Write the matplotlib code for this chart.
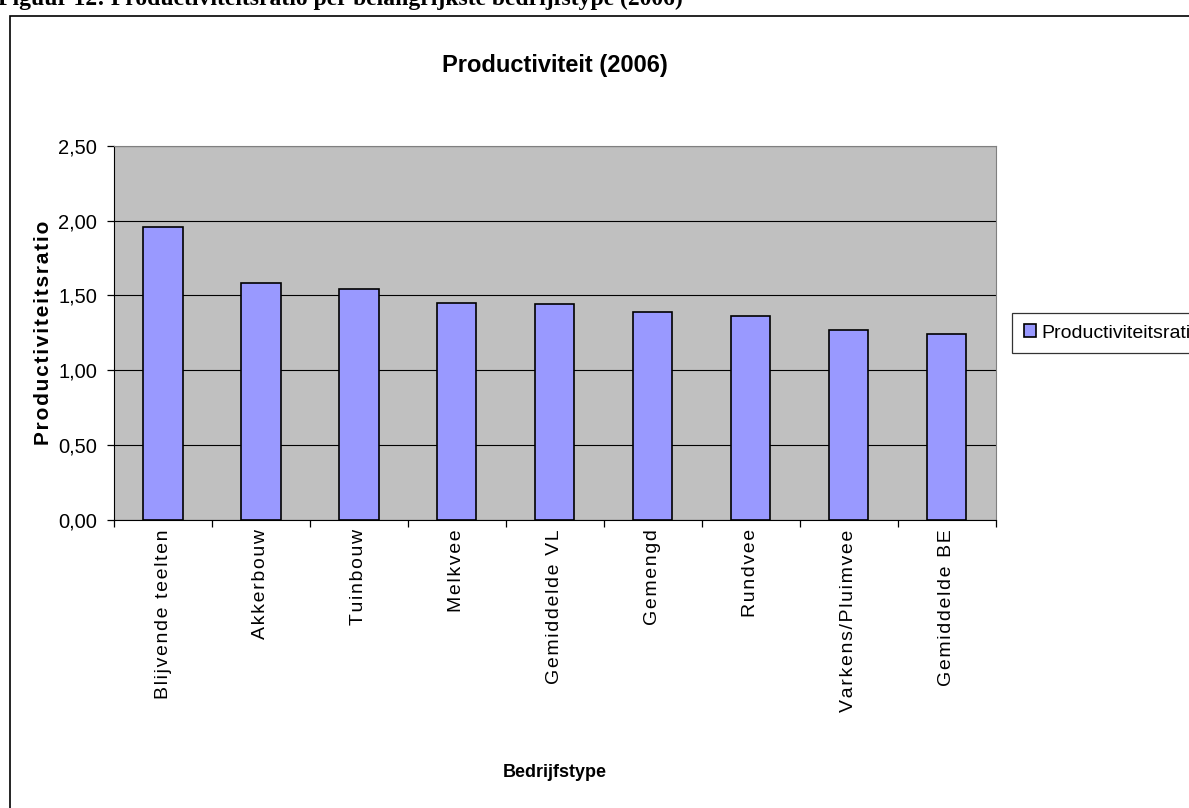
import numpy as np
import matplotlib
matplotlib.use("Agg")
import matplotlib.pyplot as plt
from matplotlib.patches import Rectangle
from matplotlib.ticker import FuncFormatter, MultipleLocator

# productiviteitsratio per bedrijfstype, 2006
categories = ["Blijvende teelten", "Akkerbouw", "Tuinbouw", "Melkvee", "Gemiddelde VL",
              "Gemengd", "Rundvee", "Varkens/Pluimvee", "Gemiddelde BE"]
ratios = [1.96, 1.58, 1.54, 1.45, 1.44, 1.39, 1.36, 1.27, 1.24]
series_name = "Productiviteitsratio"

plt.rcParams["font.family"] = ["Liberation Sans", "DejaVu Sans"]


def spaced(s):
    # wide tracking like the old spreadsheet export
    return "\u200a".join(s)


fig = plt.figure(figsize=(11.89, 8.08), dpi=100)
ax = fig.add_axes([0.0959, 0.357, 0.7415, 0.4623])

x = np.arange(len(categories))
ax.bar(x, ratios, width=0.4, color="#9999FF", edgecolor="black", linewidth=1.2,
       label=series_name, zorder=3)

ax.set_facecolor("#C0C0C0")
ax.set_xlim(-0.5, len(categories) - 0.5)
ax.set_ylim(0, 2.5)
ax.yaxis.set_major_locator(MultipleLocator(0.5))
ax.yaxis.set_major_formatter(FuncFormatter(lambda v, p: f"{v:.2f}".replace(".", ",")))
ax.grid(axis="y", color="black", linewidth=0.8, zorder=1)

ax.set_xticks(x)
ax.set_xticklabels([spaced(c) for c in categories], rotation=90, fontsize=14)
ax.set_xticks(np.arange(-0.5, len(categories)), minor=True)
ax.tick_params(axis="x", which="major", length=0, pad=7)
ax.tick_params(axis="x", which="minor", length=5, width=0.9, direction="out")
ax.tick_params(axis="y", length=5, width=0.9, direction="out", labelsize=14.5, pad=7)

for side in ["top", "right"]:
    ax.spines[side].set_color("#808080")
ax.spines["left"].set_color("black")
ax.spines["bottom"].set_color("black")

ax.set_title("Productiviteit (2006)", fontsize=17, fontweight="bold", pad=53)
ax.set_ylabel(spaced("Productiviteitsratio"), fontsize=15, fontweight="bold", labelpad=4)
ax.set_xlabel("Bedrijfstype", fontsize=13, fontweight="bold", labelpad=38)

leg = ax.legend(loc="upper left", bbox_to_anchor=(1012 / 1189, 1 - 312.7 / 808),
                bbox_transform=fig.transFigure, fontsize=14, frameon=True, fancybox=False,
                handlelength=0.65, handleheight=0.65, handletextpad=0.25,
                borderpad=0.6, borderaxespad=0)
leg.get_frame().set_edgecolor("black")
leg.get_frame().set_linewidth(0.9)

# outer chart frame, running past the right and bottom edge
fig.patches.append(Rectangle((9.5 / 1189, -0.05), 1.1, 1 - 16 / 808 + 0.05,
                             transform=fig.transFigure, fill=False,
                             edgecolor="black", linewidth=1.2))

# caption of the report figure, mostly cut off at the top
fig.text(-0.002, 1 - 5 / 808, "Figuur 12: Productiviteitsratio per belangrijkste bedrijfstype (2006)",
         family=["Liberation Serif", "DejaVu Serif"], fontsize=17, fontweight="bold",
         ha="left", va="baseline")

fig.savefig("out.png", dpi=100)
